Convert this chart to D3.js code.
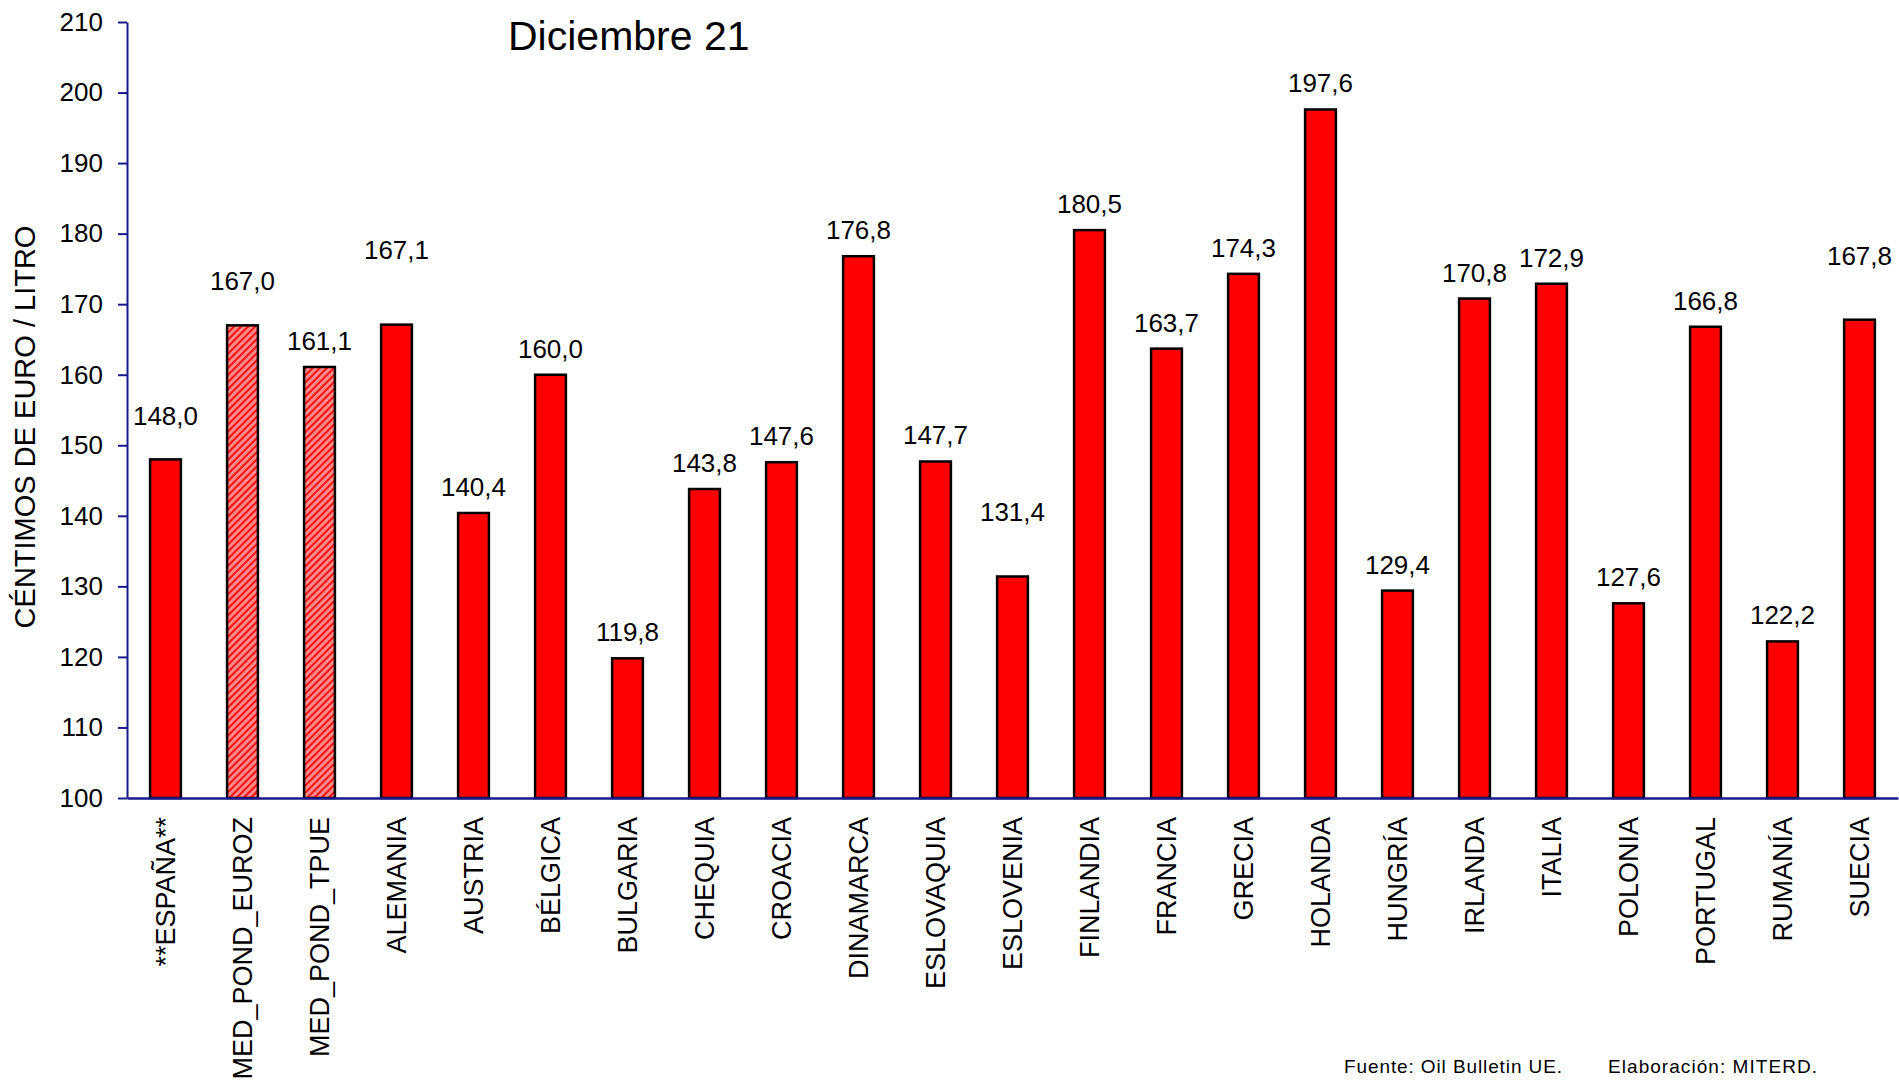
<!DOCTYPE html>
<html>
<head>
<meta charset="utf-8">
<script src="https://cdn.jsdelivr.net/npm/d3@7"></script>
<style>
  body { margin: 0; background: #fff; }
  svg text { font-family: "Liberation Sans", Arial, sans-serif; fill: #000; }
</style>
</head>
<body>
<script>
// chart data
var countries = ["**ESPAÑA**", "MED_POND_EUROZ", "MED_POND_TPUE", "ALEMANIA", "AUSTRIA", "BÉLGICA",
    "BULGARIA", "CHEQUIA", "CROACIA", "DINAMARCA", "ESLOVAQUIA", "ESLOVENIA", "FINLANDIA",
    "FRANCIA", "GRECIA", "HOLANDA", "HUNGRÍA", "IRLANDA", "ITALIA", "POLONIA", "PORTUGAL",
    "RUMANÍA", "SUECIA"];
var prices = [148.0, 167.0, 161.1, 167.1, 140.4, 160.0, 119.8, 143.8, 147.6, 176.8, 147.7, 131.4,
    180.5, 163.7, 174.3, 197.6, 129.4, 170.8, 172.9, 127.6, 166.8, 122.2, 167.8];
var averages = ["MED_POND_EUROZ", "MED_POND_TPUE"];   // hatched bars
var yTicks = [100, 110, 120, 130, 140, 150, 160, 170, 180, 190, 200, 210];

// some labels were pushed up by hand in the original
var labelLift = {"**ESPAÑA**": 17, "MED_POND_EUROZ": 18, "ALEMANIA": 49, "ESLOVENIA": 38, "SUECIA": 38};

var width = 1899, height = 1088;
var margin = {top: 22, right: 1, bottom: 290, left: 127};
var plotW = width - margin.left - margin.right,
    plotH = height - margin.top - margin.bottom;

var svg = d3.select("body").append("svg")
    .attr("width", width)
    .attr("height", height);

svg.append("rect").attr("width", width).attr("height", height).attr("fill", "#fff");

// hatch pattern for the average bars
var pat = svg.append("defs").append("pattern")
    .attr("id", "hatch")
    .attr("patternUnits", "userSpaceOnUse")
    .attr("width", 5).attr("height", 5)
    .attr("patternTransform", "rotate(45)");
pat.append("rect").attr("width", 5).attr("height", 5).attr("fill", "#ff8a8a");
pat.append("rect").attr("x", 0).attr("width", 2).attr("height", 5).attr("fill", "#ff1010");

var g = svg.append("g")
    .attr("transform", "translate(" + margin.left + "," + margin.top + ")");

var x = d3.scaleBand()
    .domain(countries)
    .range([0, plotW])
    .paddingInner(0.6)
    .paddingOuter(0.3);

var y = d3.scaleLinear()
    .domain([100, 210])
    .range([plotH, 0]);

// bars
g.selectAll(".bar")
    .data(countries)
    .enter()
  .append("rect")
    .attr("class", "bar")
    .attr("x", function(d) { return x(d); })
    .attr("y", function(d, i) { return y(prices[i]); })
    .attr("width", x.bandwidth())
    .attr("height", function(d, i) { return plotH - y(prices[i]); })
    .attr("fill", function(d) { return averages.indexOf(d) >= 0 ? "url(#hatch)" : "#ff0000"; })
    .attr("stroke", "#000")
    .attr("stroke-width", 2.5);

// value labels
var fmt = function(v) { return v.toFixed(1).replace(".", ","); };
g.selectAll(".val")
    .data(countries)
    .enter()
  .append("text")
    .attr("class", "val")
    .attr("x", function(d) { return x(d) + x.bandwidth() / 2; })
    .attr("y", function(d, i) { return y(prices[i]) - 17 - (labelLift[d] || 0); })
    .attr("text-anchor", "middle")
    .style("font-size", "26px")
    .text(function(d, i) { return fmt(prices[i]); });

// y axis
var yAxis = g.append("g")
    .call(d3.axisLeft(y).tickValues(yTicks).tickSize(9).tickPadding(15).tickSizeOuter(0));
yAxis.select(".domain").attr("stroke", "#1a1a8c").attr("stroke-width", 2);
yAxis.selectAll(".tick line").attr("stroke", "#1a1a8c").attr("stroke-width", 2);
yAxis.selectAll(".tick text")
    .style("font-size", "26px")
    .style("font-family", "'Liberation Sans', Arial, sans-serif")
    .attr("fill", "#000");

// x axis
var xAxis = g.append("g")
    .attr("transform", "translate(0," + plotH + ")")
    .call(d3.axisBottom(x).tickSize(0).tickPadding(0).tickSizeOuter(0));
xAxis.select(".domain").attr("stroke", "#1a1a8c").attr("stroke-width", 2.5);
xAxis.selectAll(".tick text")
    .attr("transform", "rotate(-90)")
    .attr("x", -19)
    .attr("y", 0)
    .attr("dy", "0.36em")
    .attr("text-anchor", "end")
    .style("font-size", "27px")
    .style("font-family", "'Liberation Sans', Arial, sans-serif")
    .attr("fill", "#000");

// y axis title
svg.append("text")
    .attr("transform", "translate(35,427) rotate(-90)")
    .attr("text-anchor", "middle")
    .style("font-size", "29px")
    .text("CÉNTIMOS DE EURO / LITRO");

// chart title
svg.append("text")
    .attr("x", 508)
    .attr("y", 50)
    .style("font-size", "41px")
    .text("Diciembre 21");

// footer
svg.append("text")
    .attr("x", 1344)
    .attr("y", 1073)
    .style("font-size", "19px")
    .attr("textLength", 218)
    .attr("lengthAdjust", "spacing")
    .text("Fuente: Oil Bulletin UE.");
svg.append("text")
    .attr("x", 1608)
    .attr("y", 1073)
    .style("font-size", "19px")
    .attr("textLength", 209)
    .attr("lengthAdjust", "spacing")
    .text("Elaboración: MITERD.");
</script>
</body>
</html>
